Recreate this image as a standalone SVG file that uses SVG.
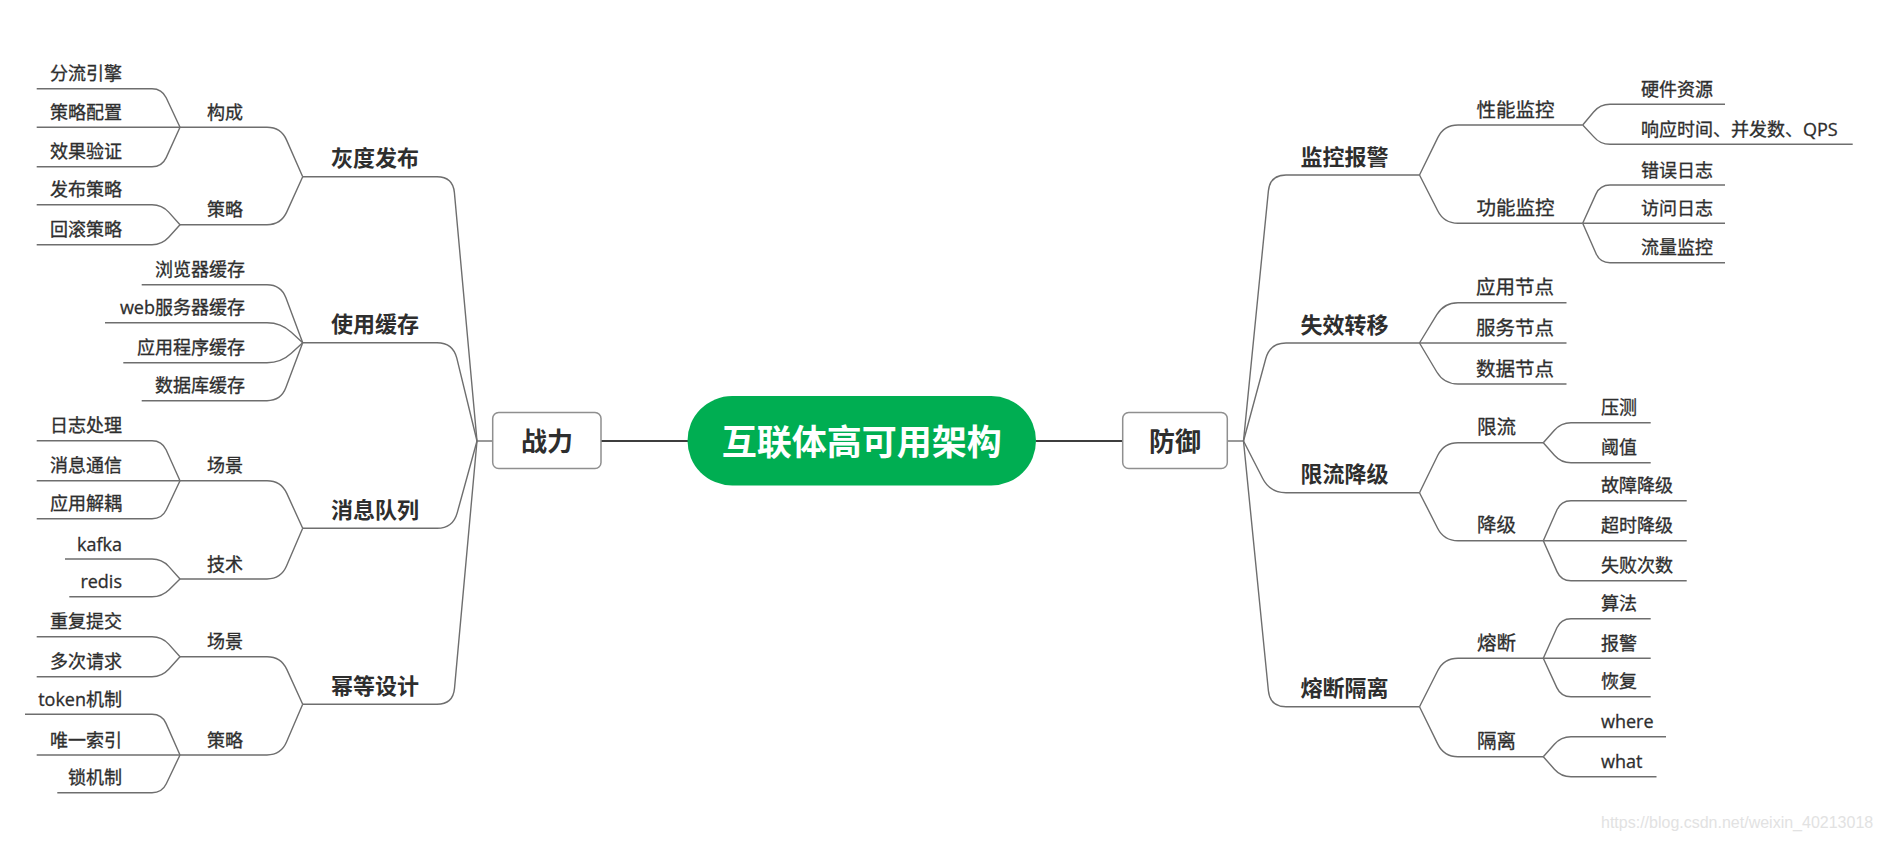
<svg xmlns="http://www.w3.org/2000/svg" width="1882" height="842" viewBox="0 0 1882 842">
<style>
text{font-family:"Open Sans","Noto Sans CJK SC",sans-serif;fill:#2e2e2e}
.t3{font-size:18px;stroke:#2e2e2e;stroke-width:0.3}
.t2r{font-size:19.5px;stroke:#2e2e2e;stroke-width:0.3}
.t1{font-size:22px;font-weight:700}
.main{font-size:26px;font-weight:700}
.root{font-size:35px;font-weight:700;fill:#fff}
.e{text-anchor:end}
.m{text-anchor:middle}
.ln{fill:none;stroke:#6e6e6e;stroke-width:1.4}
.dk{fill:none;stroke:#3d3d3d;stroke-width:1.8}
.box{fill:#fff;stroke:#8f8f8f;stroke-width:1.5}
.wm{font-family:"Liberation Sans",Arial,sans-serif;font-size:16px;fill:#e2e2e2}
</style>
<rect width="1882" height="842" fill="#fff"/>
<g id="connectors">
<path class="ln" d="M477,441 H492.7"/>
<path class="dk" d="M601,441 H688"/>
<path class="dk" d="M1036,441 H1122.7"/>
<path class="ln" d="M1227.3,441 H1243.5"/>
<path class="ln" d="M302.7,176.7 H437 Q453,176.7 454.4,192.6 L477,441"/>
<path class="ln" d="M302.7,342.7 H437 Q453,342.7 456.8,358.2 L477,441"/>
<path class="ln" d="M302.7,528.3 H437 Q453,528.3 457.2,512.9 L477,441"/>
<path class="ln" d="M302.7,704.3 H437 Q453,704.3 454.5,688.4 L477,441"/>
<path class="ln" d="M180,127.3 H267 Q281,127.3 286.6,140.1 L302.7,176.7"/>
<path class="ln" d="M180,224.7 H267 Q281,224.7 286.8,211.9 L302.7,176.7"/>
<path class="ln" d="M36.7,88.7 H152 Q162,88.7 166.2,97.8 L180,127.3"/>
<path class="ln" d="M36.7,127.3 H180"/>
<path class="ln" d="M36.7,166.7 H152 Q162,166.7 166.2,157.6 L180,127.3"/>
<path class="ln" d="M36.7,204.7 H152 Q162,204.7 168.7,212.1 L180,224.7"/>
<path class="ln" d="M36.7,244.7 H152 Q162,244.7 168.7,237.3 L180,224.7"/>
<path class="ln" d="M141.7,284.7 H267 Q281,284.7 285.9,297.8 L302.7,342.7"/>
<path class="ln" d="M105,322.7 H267 Q281,322.7 291.3,332.2 L302.7,342.7"/>
<path class="ln" d="M123.3,362.7 H267 Q281,362.7 291.3,353.2 L302.7,342.7"/>
<path class="ln" d="M141.7,400.7 H267 Q281,400.7 285.9,387.6 L302.7,342.7"/>
<path class="ln" d="M180,480.7 H267 Q281,480.7 286.8,493.4 L302.7,528.3"/>
<path class="ln" d="M180,579 H267 Q281,579 286.5,566.1 L302.7,528.3"/>
<path class="ln" d="M36.7,440.7 H152 Q162,440.7 166.1,449.8 L180,480.7"/>
<path class="ln" d="M36.7,480.7 H180"/>
<path class="ln" d="M36.7,518.7 H152 Q162,518.7 166.3,509.7 L180,480.7"/>
<path class="ln" d="M65,559 H152 Q162,559 168.7,566.4 L180,579"/>
<path class="ln" d="M69.3,596.7 H152 Q162,596.7 169.1,589.7 L180,579"/>
<path class="ln" d="M180,656.7 H267 Q281,656.7 286.8,669.4 L302.7,704.3"/>
<path class="ln" d="M180,755 H267 Q281,755 286.5,742.1 L302.7,704.3"/>
<path class="ln" d="M36.7,636.7 H152 Q162,636.7 168.7,644.1 L180,656.7"/>
<path class="ln" d="M36.7,676.7 H152 Q162,676.7 168.7,669.3 L180,656.7"/>
<path class="ln" d="M25,714.3 H152 Q162,714.3 166,723.4 L180,755"/>
<path class="ln" d="M36.7,755 H180"/>
<path class="ln" d="M57.3,792.7 H152 Q162,792.7 166.3,783.7 L180,755"/>
<path class="ln" d="M1419.5,175 H1286 Q1270,175 1268.4,190.9 L1243.5,441"/>
<path class="ln" d="M1419.5,343 H1286 Q1270,343 1265.8,358.5 L1243.5,441"/>
<path class="ln" d="M1419.5,492.7 H1286 Q1270,492.7 1262.7,478.5 L1243.5,441"/>
<path class="ln" d="M1419.5,706.7 H1286 Q1270,706.7 1268.4,690.8 L1243.5,441"/>
<path class="ln" d="M1582.7,125 H1458 Q1444,125 1437.8,137.6 L1419.5,175"/>
<path class="ln" d="M1582.7,223.3 H1458 Q1444,223.3 1437.7,210.8 L1419.5,175"/>
<path class="ln" d="M1725,104.3 H1610 Q1600,104.3 1593.6,112 L1582.7,125"/>
<path class="ln" d="M1852.7,144.3 H1610 Q1600,144.3 1593.6,136.6 L1582.7,125"/>
<path class="ln" d="M1725,185 H1610 Q1600,185 1595.9,194.1 L1582.7,223.3"/>
<path class="ln" d="M1582.7,223.3 H1725"/>
<path class="ln" d="M1725,262.7 H1610 Q1600,262.7 1596,253.5 L1582.7,223.3"/>
<path class="ln" d="M1566.5,302.7 H1458 Q1444,302.7 1436.8,314.7 L1419.5,343"/>
<path class="ln" d="M1419.5,343 H1566.5"/>
<path class="ln" d="M1566.5,384 H1458 Q1444,384 1436.8,372 L1419.5,343"/>
<path class="ln" d="M1543.3,442.7 H1458 Q1444,442.7 1437.8,455.3 L1419.5,492.7"/>
<path class="ln" d="M1543.3,540.7 H1458 Q1444,540.7 1437.6,528.2 L1419.5,492.7"/>
<path class="ln" d="M1650.7,422.7 H1571 Q1561,422.7 1554.4,430.2 L1543.3,442.7"/>
<path class="ln" d="M1650.7,462.7 H1571 Q1561,462.7 1554.4,455.2 L1543.3,442.7"/>
<path class="ln" d="M1686.7,500.7 H1571 Q1561,500.7 1557,509.8 L1543.3,540.7"/>
<path class="ln" d="M1543.3,540.7 H1686.7"/>
<path class="ln" d="M1686.7,580.7 H1571 Q1561,580.7 1557,571.6 L1543.3,540.7"/>
<path class="ln" d="M1543.3,658.3 H1458 Q1444,658.3 1437.7,670.8 L1419.5,706.7"/>
<path class="ln" d="M1543.3,756.7 H1458 Q1444,756.7 1437.8,744.1 L1419.5,706.7"/>
<path class="ln" d="M1650.7,618.7 H1571 Q1561,618.7 1556.9,627.8 L1543.3,658.3"/>
<path class="ln" d="M1543.3,658.3 H1650.7"/>
<path class="ln" d="M1650.7,696.7 H1571 Q1561,696.7 1556.8,687.6 L1543.3,658.3"/>
<path class="ln" d="M1666,736.7 H1571 Q1561,736.7 1554.4,744.2 L1543.3,756.7"/>
<path class="ln" d="M1656.5,776.7 H1571 Q1561,776.7 1554.4,769.2 L1543.3,756.7"/>
</g>
<g id="root"><rect x="687.5" y="396" width="348.5" height="89.5" rx="44.75" fill="#00ae52"/><text class="root m" x="861.7" y="455">互联体高可用架构</text></g>
<g id="zhanli"><rect class="box" x="492.7" y="412.5" width="108.3" height="56" rx="6"/><text class="main m" x="547" y="451">战力</text></g>
<g id="fangyu"><rect class="box" x="1122.7" y="412.5" width="104.6" height="56" rx="6"/><text class="main m" x="1175" y="451">防御</text></g>
<g id="n-huidu"><text class="t1 m" x="375" y="166.2">灰度发布</text></g>
<g id="n-huancun"><text class="t1 m" x="375" y="332.2">使用缓存</text></g>
<g id="n-xiaoxi"><text class="t1 m" x="375" y="517.8">消息队列</text></g>
<g id="n-mideng"><text class="t1 m" x="375" y="693.8">幂等设计</text></g>
<g id="n-goucheng"><text class="t3 m" x="225" y="118.8">构成</text></g>
<g id="n-celue1"><text class="t3 m" x="225" y="216.2">策略</text></g>
<g id="n-changjing1"><text class="t3 m" x="225" y="472.2">场景</text></g>
<g id="n-jishu"><text class="t3 m" x="225" y="570.5">技术</text></g>
<g id="n-changjing2"><text class="t3 m" x="225" y="648.2">场景</text></g>
<g id="n-celue2"><text class="t3 m" x="225" y="746.5">策略</text></g>
<g id="n-c1"><text class="t3 e" x="245" y="276.2">浏览器缓存</text></g>
<g id="n-c2"><text class="t3 e" x="245" y="314.2">web服务器缓存</text></g>
<g id="n-c3"><text class="t3 e" x="245" y="354.2">应用程序缓存</text></g>
<g id="n-c4"><text class="t3 e" x="245" y="392.2">数据库缓存</text></g>
<g id="n-l1"><text class="t3 e" x="122" y="80.2">分流引擎</text></g>
<g id="n-l2"><text class="t3 e" x="122" y="118.8">策略配置</text></g>
<g id="n-l3"><text class="t3 e" x="122" y="158.2">效果验证</text></g>
<g id="n-l4"><text class="t3 e" x="122" y="196.2">发布策略</text></g>
<g id="n-l5"><text class="t3 e" x="122" y="236.2">回滚策略</text></g>
<g id="n-l6"><text class="t3 e" x="122" y="432.2">日志处理</text></g>
<g id="n-l7"><text class="t3 e" x="122" y="472.2">消息通信</text></g>
<g id="n-l8"><text class="t3 e" x="122" y="510.2">应用解耦</text></g>
<g id="n-l9"><text class="t3 e" x="122" y="550.5">kafka</text></g>
<g id="n-l10"><text class="t3 e" x="122" y="588.2">redis</text></g>
<g id="n-l11"><text class="t3 e" x="122" y="628.2">重复提交</text></g>
<g id="n-l12"><text class="t3 e" x="122" y="668.2">多次请求</text></g>
<g id="n-l13"><text class="t3 e" x="122" y="705.8">token机制</text></g>
<g id="n-l14"><text class="t3 e" x="122" y="746.5">唯一索引</text></g>
<g id="n-l15"><text class="t3 e" x="122" y="784.2">锁机制</text></g>
<g id="n-jiankong"><text class="t1 m" x="1344.5" y="164.5">监控报警</text></g>
<g id="n-shixiao"><text class="t1 m" x="1344.5" y="332.5">失效转移</text></g>
<g id="n-xianliujiangji"><text class="t1 m" x="1344.5" y="482.2">限流降级</text></g>
<g id="n-rongduangeli"><text class="t1 m" x="1344.5" y="696.2">熔断隔离</text></g>
<g id="n-xingneng"><text class="t2r m" x="1515.5" y="116.5">性能监控</text></g>
<g id="n-gongneng"><text class="t2r m" x="1515.5" y="214.8">功能监控</text></g>
<g id="n-yingyong"><text class="t2r m" x="1515" y="294.2">应用节点</text></g>
<g id="n-fuwu"><text class="t2r m" x="1515" y="334.5">服务节点</text></g>
<g id="n-shuju"><text class="t2r m" x="1515" y="375.5">数据节点</text></g>
<g id="n-xianliu"><text class="t2r m" x="1496.5" y="434.2">限流</text></g>
<g id="n-jiangji"><text class="t2r m" x="1496.5" y="532.2">降级</text></g>
<g id="n-rongduan"><text class="t2r m" x="1496.5" y="649.8">熔断</text></g>
<g id="n-geli"><text class="t2r m" x="1496.5" y="748.2">隔离</text></g>
<g id="n-r1"><text class="t3" x="1641" y="95.8">硬件资源</text></g>
<g id="n-r2"><text class="t3" x="1641" y="135.8">响应时间、并发数、QPS</text></g>
<g id="n-r3"><text class="t3" x="1641" y="176.5">错误日志</text></g>
<g id="n-r4"><text class="t3" x="1641" y="214.8">访问日志</text></g>
<g id="n-r5"><text class="t3" x="1641" y="254.2">流量监控</text></g>
<g id="n-r6"><text class="t3" x="1601" y="414.2">压测</text></g>
<g id="n-r7"><text class="t3" x="1601" y="454.2">阈值</text></g>
<g id="n-r8"><text class="t3" x="1601" y="492.2">故障降级</text></g>
<g id="n-r9"><text class="t3" x="1601" y="532.2">超时降级</text></g>
<g id="n-r10"><text class="t3" x="1601" y="572.2">失败次数</text></g>
<g id="n-r11"><text class="t3" x="1601" y="610.2">算法</text></g>
<g id="n-r12"><text class="t3" x="1601" y="649.8">报警</text></g>
<g id="n-r13"><text class="t3" x="1601" y="688.2">恢复</text></g>
<g id="n-r14"><text class="t3" x="1601" y="728.2">where</text></g>
<g id="n-r15"><text class="t3" x="1601" y="768.2">what</text></g>
<text class="wm" x="1601" y="828">https://blog.csdn.net/weixin_40213018</text>
</svg>
